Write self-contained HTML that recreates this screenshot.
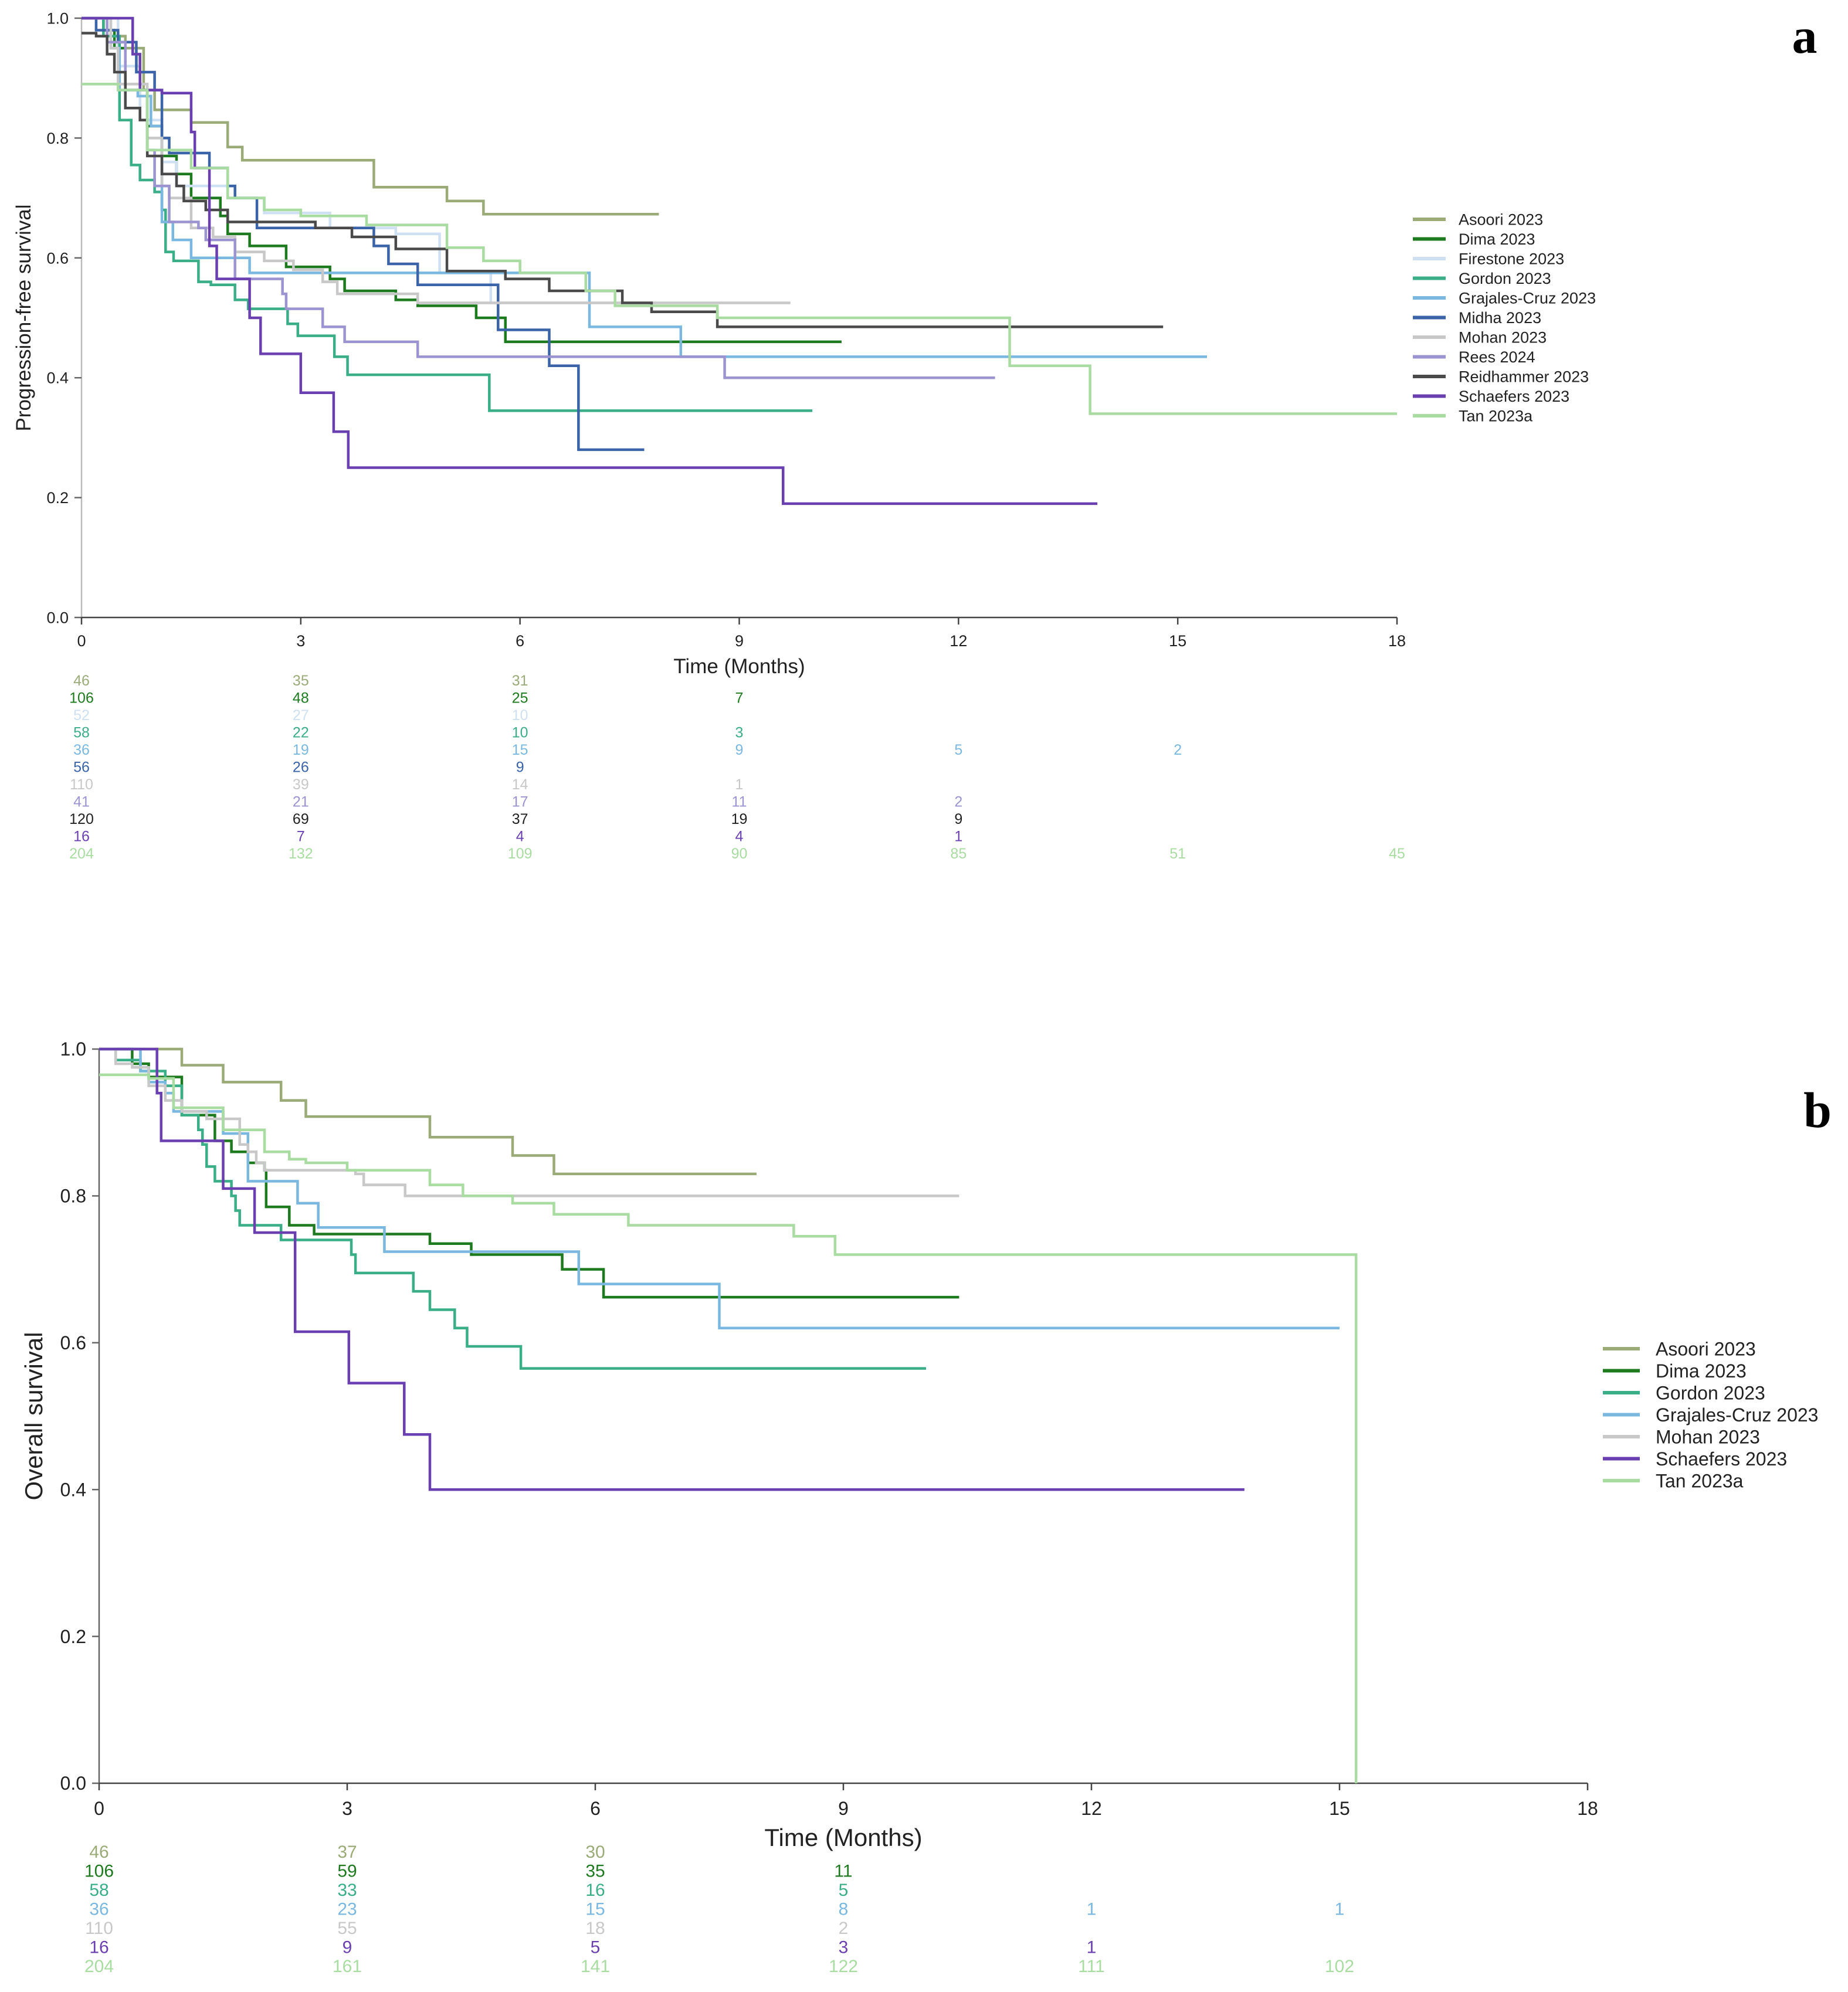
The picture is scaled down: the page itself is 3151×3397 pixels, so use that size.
<!DOCTYPE html>
<html><head><meta charset="utf-8"><style>
html,body{margin:0;padding:0;background:#fff}
svg{display:block;font-family:"Liberation Sans",sans-serif}
</style></head><body>
<svg id="chart" width="3151" height="3397" viewBox="0 0 3151 3397" xmlns="http://www.w3.org/2000/svg"></svg>
<script>
// ---------- data ----------
const studiesA = ["Asoori 2023","Dima 2023","Firestone 2023","Gordon 2023","Grajales-Cruz 2023","Midha 2023","Mohan 2023","Rees 2024","Reidhammer 2023","Schaefers 2023","Tan 2023a"];
const colorsA = ["#9aab78","#1e7a1e","#cfe0f2","#3aae86","#7ab8e0","#3a63a8","#c8c8c8","#9b94d0","#4a4a4a","#6a3fb0","#a8dca0"];
const timesA = [
 [0,0.4,0.6,0.85,1.0,1.5,2.0,2.2,4.0,5.0,5.5,7.9],
 [0,0.3,0.45,0.6,0.9,1.1,1.3,1.5,1.9,2.0,2.3,2.8,3.4,3.6,4.3,4.6,5.4,5.8,10.4],
 [0,0.5,0.8,1.1,1.3,2.0,2.5,3.4,4.3,4.9,5.6,6.9],
 [0,0.3,0.52,0.68,0.8,1.0,1.1,1.15,1.26,1.6,1.77,2.1,2.28,2.82,2.96,3.46,3.64,5.58,10.0],
 [0,0.4,0.52,0.77,0.95,1.1,1.25,1.5,2.3,6.95,8.2,15.4],
 [0,0.2,0.5,0.75,1.0,1.1,1.2,1.75,2.0,2.1,2.4,4.0,4.2,4.6,5.7,6.4,6.8,7.7],
 [0,0.4,0.5,0.9,1.1,1.2,1.5,1.8,2.1,2.5,2.9,3.3,3.5,4.6,9.7],
 [0,0.35,0.6,0.9,1.0,1.2,1.6,1.7,2.1,2.75,2.8,3.3,3.6,4.6,8.8,12.5],
 [0,0.2,0.35,0.45,0.6,0.8,0.9,1.1,1.3,1.4,1.7,2.0,3.2,3.7,4.3,5.0,5.8,6.4,7.4,7.8,8.7,14.8],
 [0,0.7,0.8,1.1,1.5,1.55,1.75,1.85,2.3,2.45,3.0,3.45,3.65,9.6,13.9],
 [0,0.5,0.9,1.5,2.0,2.5,3.0,3.9,5.0,5.5,6.0,6.9,7.3,8.7,12.7,13.8,18]
];
const survA = [
 [1,0.97,0.95,0.88,0.847,0.826,0.785,0.763,0.718,0.695,0.673,0.673],
 [1,0.98,0.95,0.88,0.82,0.77,0.74,0.70,0.67,0.64,0.62,0.585,0.565,0.545,0.53,0.52,0.50,0.46,0.46],
 [1,0.92,0.83,0.76,0.72,0.70,0.675,0.65,0.64,0.575,0.525,0.525],
 [1,0.97,0.83,0.755,0.73,0.71,0.68,0.61,0.595,0.56,0.555,0.53,0.515,0.49,0.47,0.435,0.405,0.345,0.345],
 [1,0.95,0.88,0.87,0.82,0.66,0.63,0.60,0.575,0.485,0.435,0.435],
 [1,0.98,0.96,0.91,0.88,0.80,0.775,0.75,0.72,0.70,0.65,0.62,0.59,0.555,0.48,0.42,0.28,0.28],
 [1,0.95,0.89,0.80,0.72,0.70,0.65,0.635,0.61,0.595,0.58,0.56,0.54,0.525,0.525],
 [1,0.96,0.88,0.78,0.72,0.66,0.65,0.63,0.565,0.54,0.515,0.485,0.46,0.435,0.40,0.40],
 [0.975,0.97,0.94,0.91,0.85,0.83,0.77,0.74,0.72,0.695,0.68,0.66,0.65,0.635,0.615,0.578,0.565,0.545,0.525,0.51,0.485,0.485],
 [1,0.94,0.88,0.875,0.81,0.75,0.62,0.565,0.50,0.44,0.375,0.31,0.25,0.19,0.19],
 [0.89,0.88,0.78,0.75,0.70,0.68,0.67,0.655,0.617,0.595,0.575,0.545,0.52,0.50,0.42,0.34,0.34]
];
const riskA = [
 ["46","35","31","","","",""],
 ["106","48","25","7","","",""],
 ["52","27","10","","","",""],
 ["58","22","10","3","","",""],
 ["36","19","15","9","5","2",""],
 ["56","26","9","","","",""],
 ["110","39","14","1","","",""],
 ["41","21","17","11","2","",""],
 ["120","69","37","19","9","",""],
 ["16","7","4","4","1","",""],
 ["204","132","109","90","85","51","45"]
];
const riskColorsA = ["#9aab78","#1e7a1e","#cfe0f2","#3aae86","#7ab8e0","#3a63a8","#c8c8c8","#9b94d0","#222222","#6a3fb0","#a8dca0"];

const studiesB = ["Asoori 2023","Dima 2023","Gordon 2023","Grajales-Cruz 2023","Mohan 2023","Schaefers 2023","Tan 2023a"];
const colorsB = ["#9aab78","#1e7a1e","#3aae86","#7ab8e0","#c8c8c8","#6a3fb0","#a8dca0"];
const timesB = [
 [0,1.0,1.5,2.2,2.5,4.0,5.0,5.5,7.95],
 [0,0.4,0.6,1.0,1.4,1.6,1.8,2.0,2.02,2.3,2.6,4.0,4.5,5.6,6.1,10.4],
 [0,0.2,0.5,0.8,1.0,1.2,1.25,1.3,1.4,1.6,1.65,1.7,2.2,3.05,3.1,3.8,4.0,4.3,4.45,5.1,10.0],
 [0,0.5,0.6,0.8,0.9,1.5,1.8,2.4,2.65,3.45,5.8,7.5,15.0],
 [0,0.2,0.4,0.6,0.8,1.0,1.3,1.7,1.8,1.9,2.0,3.1,3.2,3.7,10.4],
 [0,0.7,0.75,1.5,1.88,2.37,3.02,3.69,4.0,13.85],
 [0,0.6,0.9,1.5,2.0,2.3,2.5,3.0,4.0,4.4,5.0,5.5,6.4,8.4,8.9,15.2,15.2]
];
const survB = [
 [1,0.978,0.955,0.93,0.908,0.88,0.855,0.83,0.83],
 [1,0.98,0.962,0.91,0.875,0.86,0.845,0.835,0.785,0.76,0.748,0.735,0.72,0.70,0.662,0.662],
 [1,0.985,0.97,0.95,0.91,0.89,0.87,0.84,0.82,0.80,0.78,0.76,0.74,0.72,0.695,0.67,0.645,0.62,0.595,0.565,0.565],
 [1,0.97,0.955,0.94,0.915,0.885,0.82,0.79,0.757,0.724,0.68,0.62,0.62],
 [1,0.98,0.975,0.95,0.93,0.915,0.905,0.87,0.86,0.845,0.835,0.83,0.815,0.80,0.80],
 [1,0.94,0.875,0.81,0.75,0.615,0.545,0.475,0.40,0.40],
 [0.965,0.96,0.92,0.89,0.86,0.85,0.845,0.835,0.815,0.80,0.79,0.775,0.76,0.745,0.72,0.72,0]
];
const riskB = [
 ["46","37","30","","","",""],
 ["106","59","35","11","","",""],
 ["58","33","16","5","","",""],
 ["36","23","15","8","1","1",""],
 ["110","55","18","2","","",""],
 ["16","9","5","3","1","",""],
 ["204","161","141","122","111","102",""]
];
const xTicks = [0,3,6,9,12,15,18];
const yTicks = [0,0.2,0.4,0.6,0.8,1.0];

// ---------- drawing ----------
const NS = "http://www.w3.org/2000/svg";
const svg = document.getElementById("chart");
function mk(tag, attrs, parent){ const e=document.createElementNS(NS,tag); for(const k in attrs) e.setAttribute(k,attrs[k]); (parent||svg).appendChild(e); return e; }

function panel(cfg){
  const g = mk("g",{});
  
  
  const X = t => cfg.x0 + (cfg.x1-cfg.x0)*t/18;
  const Y = s => cfg.y0 + (cfg.y1-cfg.y0)*s;
  // axes
  const ya = mk("line",{x1:X(0),x2:X(0),y1:Y(0),y2:Y(1),stroke:cfg.yaxisColor,"stroke-width":2.5},g);
  
  
  const xa = mk("line",{x1:X(0),x2:X(18),y1:Y(0),y2:Y(0),stroke:"#444","stroke-width":2.5},g);
  
  
  yTicks.forEach(v=>{
    mk("line",{x1:X(0)-12,x2:X(0),y1:Y(v),y2:Y(v),stroke:"#666","stroke-width":2.5},g);
    const t = mk("text",{x:X(0)-22,y:Y(v)+cfg.tf*0.35,"text-anchor":"end","font-size":cfg.tf,fill:"#222"},g);
    t.textContent = v.toFixed(1);
    
    
  });
  xTicks.forEach(v=>{
    mk("line",{x1:X(v),x2:X(v),y1:Y(0),y2:Y(0)+12,stroke:"#444","stroke-width":2.5},g);
    const t = mk("text",{x:X(v),y:Y(0)+cfg.tf+22,"text-anchor":"middle","font-size":cfg.tf,fill:"#222"},g);
    t.textContent = v;
    
    
  });
  const xt = mk("text",{x:X(9),y:cfg.xTitleY,"text-anchor":"middle","font-size":cfg.titleF,fill:"#222"},g);
  xt.textContent = "Time (Months)";
  
  
  const yt = mk("text",{x:0,y:0,"text-anchor":"middle","font-size":cfg.titleF,fill:"#222",transform:`translate(${cfg.yTitleX},${(Y(0)+Y(1))/2}) rotate(-90)`},g);
  yt.textContent = cfg.yTitle;
  
  
  // curves
  cfg.times.forEach((ts,i)=>{
    const ss = cfg.surv[i];
    let d = `M${X(ts[0])},${Y(ss[0])}`;
    for(let k=1;k<ts.length;k++){ d += ` H${X(ts[k])} V${Y(ss[k])}`; }
    const p = mk("path",{d:d,fill:"none",stroke:cfg.colors[i],"stroke-width":4.5},g);
    
    
  });
  // legend
  cfg.studies.forEach((s,i)=>{
    const ly = cfg.legY + i*cfg.legStep;
    const l = mk("line",{x1:cfg.legX,x2:cfg.legX+cfg.legLen,y1:ly,y2:ly,stroke:cfg.colors[i],"stroke-width":6},g);
    
    
    const t = mk("text",{x:cfg.legTX,y:ly+cfg.legF*0.36,"font-size":cfg.legF,fill:"#222"},g);
    t.textContent = s;
    
    
  });
  // risk table
  cfg.risk.forEach((row,i)=>{
    row.forEach((v,j)=>{
      if(!v) return;
      const t = mk("text",{x:X(xTicks[j]),y:cfg.riskY+i*cfg.riskStep,"text-anchor":"middle","font-size":cfg.riskF,fill:cfg.riskColors[i]},g);
      t.textContent = v;
      
      
    });
  });
  const lab = mk("text",{x:cfg.labX,y:cfg.labY,"text-anchor":"middle","font-size":86,"font-weight":"bold","font-family":"Liberation Serif, serif",fill:"#000"},g);
  lab.textContent = cfg.label;
  
  
}

panel({name:"pfs-panel",x0:139,x1:2382,y0:1053,y1:31,yaxisColor:"#bbb",tf:27,titleF:35,
  xTitleY:1148,yTitleX:52,yTitle:"Progression-free survival",
  times:timesA,surv:survA,colors:colorsA,studies:studiesA,
  legX:2409,legLen:56,legTX:2487,legY:374,legStep:33.5,legF:27,
  risk:riskA,riskColors:riskColorsA,riskY:1169,riskStep:29.5,riskF:25,
  label:"a",labX:3077,labY:90});
panel({name:"os-panel",x0:169,x1:2707,y0:3041,y1:1789,yaxisColor:"#666",tf:32,titleF:42,
  xTitleY:3148,yTitleX:72,yTitle:"Overall survival",
  times:timesB,surv:survB,colors:colorsB,studies:studiesB,
  legX:2733,legLen:63,legTX:2823,legY:2300,legStep:37.5,legF:32,
  risk:riskB,riskColors:colorsB,riskY:3168,riskStep:32.5,riskF:30,
  label:"b",labX:3099,labY:1922});
</script>
</body></html>
